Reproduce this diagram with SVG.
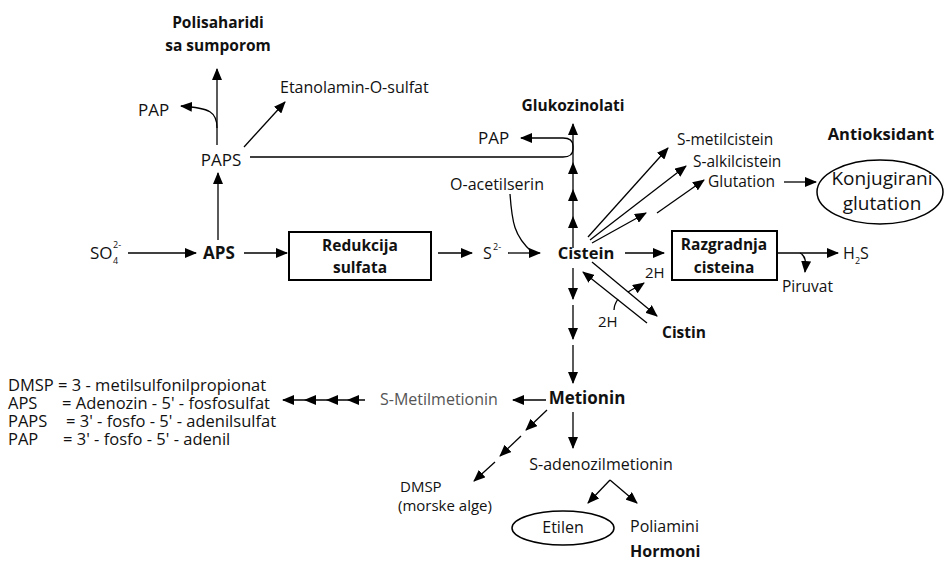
<svg xmlns="http://www.w3.org/2000/svg" width="945" height="561" viewBox="0 0 945 561">
<defs>
<marker id="ah" markerUnits="userSpaceOnUse" markerWidth="12" markerHeight="10" viewBox="0 0 12 10" refX="11" refY="5" orient="auto">
<path d="M0,0 L12,5 L0,10 Z" fill="#000"/>
</marker>
</defs>
<style>
text{font-family:"Open Sans","Noto Sans","Liberation Sans",sans-serif;font-size:16px;fill:#111}
.b{font-weight:bold;font-size:15.5px}
.m{text-anchor:middle}
.sm{font-size:9px}
.g{fill:#555}
.f{font-size:15.5px}
.lg{font-size:15px}
.leg{font-size:16.5px}
.l{fill:none;stroke:#000;stroke-width:1.3}
.a{fill:none;stroke:#000;stroke-width:1.3;marker-end:url(#ah)}
.c{fill:none;stroke:#000;stroke-width:1.3;marker-mid:url(#ah);marker-end:url(#ah)}
.box{fill:#fff;stroke:#000;stroke-width:2}
</style>
<rect width="945" height="561" fill="#fff"/>

<g id="connectors">
<path class="a" d="M218,240 V173"/>
<path class="a" d="M217,145 V69"/>
<path class="a" d="M217,128 C217,112 210,108 181,106"/>
<path class="a" d="M244,147 L285,102"/>
<path class="a" d="M250,157 H563 Q573,157 573,149 V146 Q573,138 563,138 H521"/>
<path class="a" d="M128,253 H196"/>
<path class="a" d="M244,253 H287"/>
<path class="a" d="M438,253 H472"/>
<path class="a" d="M508,253 H540"/>
<path class="l" d="M510,194 C512,222 514,236 532,252"/>
<polyline class="c" points="573,248 573,217 573,190 573,163 573,124"/>
<path class="a" d="M588,237 L668,148"/>
<path class="a" d="M590,240 L686,166"/>
<path class="a" d="M592,243 L646,213"/>
<path class="a" d="M657,213 L704,180"/>
<path class="a" d="M784,182 H816"/>
<path class="a" d="M625,253 H664"/>
<path class="a" d="M778,253 H838"/>
<path class="a" d="M800,253 C806,256 806,262 805,272"/>
<path class="a" d="M592,262 L657,316"/>
<path class="a" d="M647,323 L583,272"/>
<path class="a" d="M628,292 C634,288 638,287 644,283"/>
<path class="l" d="M618,299 C616,302 614,305 614,310"/>
<path class="a" d="M573,268 V299"/>
<path class="a" d="M573,305 V339"/>
<path class="a" d="M573,345 V383"/>
<path class="a" d="M573,412 V448"/>
<path class="a" d="M546,400 H513"/>
<polyline class="c" points="365,400 348,400 327,400 305,400 283,400"/>
<path class="a" d="M547,410 L526,430"/>
<path class="a" d="M521,436 L500,456"/>
<path class="a" d="M495,462 L474,481"/>
<path class="a" d="M610,480 L588,503"/>
<path class="a" d="M610,480 L637,503"/>
</g>

<g id="n-polisaharidi"><text class="b m" x="218" y="28">Polisaharidi</text><text class="b m" x="218" y="51">sa sumporom</text></g>
<g id="n-pap1"><text x="138" y="116" style="font-size:17px">PAP</text></g>
<g id="n-etanolamin"><text x="280" y="93">Etanolamin-O-sulfat</text></g>
<g id="n-paps"><text class="m" x="221" y="166" style="font-size:17px">PAPS</text></g>
<g id="n-so4"><text x="90" y="259" style="font-size:17px">SO</text><text class="sm" x="113" y="264">4</text><text class="sm" x="113" y="248">2-</text></g>
<g id="n-aps"><text class="b m" x="219" y="259" style="font-size:17px">APS</text></g>
<g id="n-redukcija"><rect class="box" x="289" y="232" width="142" height="48"/><text class="b m" x="360" y="251">Redukcija</text><text class="b m" x="360" y="273">sulfata</text></g>
<g id="n-s2"><text x="483" y="259">S</text><text class="sm" x="493" y="250">2-</text></g>
<g id="n-oacetilserin"><text class="m" x="497" y="190">O-acetilserin</text></g>
<g id="n-glukozinolati"><text class="b m" x="573" y="111">Glukozinolati</text></g>
<g id="n-pap2"><text x="478" y="144" style="font-size:17px">PAP</text></g>
<g id="n-cistein"><text class="b m" x="586" y="259" style="font-size:16.5px">Cistein</text></g>
<g id="n-smetil"><text class="f" x="677" y="145">S-metilcistein</text><text class="f" x="693" y="167">S-alkilcistein</text><text class="f" x="708" y="187">Glutation</text></g>
<g id="n-antioksidant"><text class="b m" x="881" y="140" style="font-size:16.5px">Antioksidant</text></g>
<g id="n-konjugirani"><ellipse cx="880" cy="192" rx="63" ry="32" fill="none" stroke="#000" stroke-width="1.5"/><text class="m" x="882" y="185" style="font-size:19px">Konjugirani</text><text class="m" x="882" y="210" style="font-size:19px">glutation</text></g>
<g id="n-razgradnja"><rect class="box" x="672" y="231" width="105" height="49"/><text class="b m" x="724" y="250">Razgradnja</text><text class="b m" x="724" y="273">cisteina</text></g>
<g id="n-h2s"><text x="843" y="259">H</text><text class="sm" x="855" y="264">2</text><text x="860" y="259">S</text></g>
<g id="n-piruvat"><text class="f" x="782" y="292">Piruvat</text></g>
<g id="n-2h-a"><text class="lg" x="645" y="278">2H</text></g>
<g id="n-2h-b"><text class="lg" x="598" y="327">2H</text></g>
<g id="n-cistin"><text class="b" x="662" y="338">Cistin</text></g>
<g id="n-metionin"><text class="b m" x="587" y="404" style="font-size:17px">Metionin</text></g>
<g id="n-smetilmetionin"><text class="g" x="380" y="405">S-Metilmetionin</text></g>
<g id="n-sam"><text class="m" x="601" y="470">S-adenozilmetionin</text></g>
<g id="n-dmsp"><text class="lg" x="400" y="492">DMSP</text><text class="lg" x="398" y="511">(morske alge)</text></g>
<g id="n-etilen"><ellipse cx="563" cy="528" rx="51" ry="17" fill="none" stroke="#000" stroke-width="1.5"/><text class="m" x="563" y="533" style="font-size:16px">Etilen</text></g>
<g id="n-poliamini"><text x="630" y="532">Poliamini</text></g>
<g id="n-hormoni"><text class="b" x="630" y="557" style="font-size:16px">Hormoni</text></g>
<g id="legend">
<text class="leg" x="8" y="391">DMSP = 3 - metilsulfonilpropionat</text>
<text class="leg" x="8" y="409">APS</text><text class="leg" x="62" y="409">= Adenozin - 5' - fosfosulfat</text>
<text class="leg" x="8" y="427">PAPS</text><text class="leg" x="66" y="427">= 3' - fosfo - 5' - adenilsulfat</text>
<text class="leg" x="8" y="445">PAP</text><text class="leg" x="63" y="445">= 3' - fosfo - 5' - adenil</text>
</g>
</svg>
